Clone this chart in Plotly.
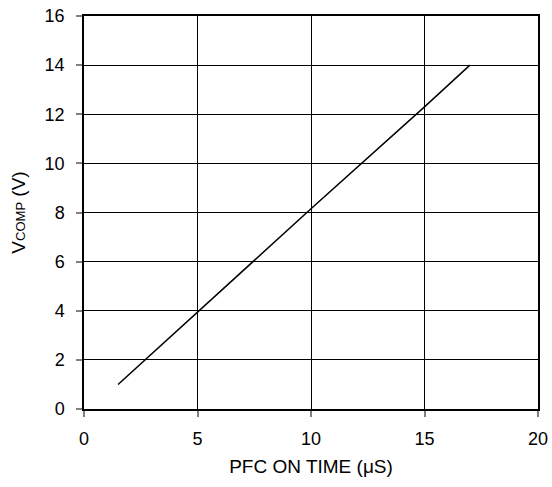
import plotly.graph_objects as go

on_time_us = [1.5, 5, 10, 15, 17]
vcomp_v = [1.0, 3.95, 8.15, 12.3, 14.0]

x_ticks = [0, 5, 10, 15, 20]
y_ticks = [0, 2, 4, 6, 8, 10, 12, 14, 16]

fig = go.Figure()
fig.add_trace(go.Scatter(x=on_time_us, y=vcomp_v, mode="lines",
                         line=dict(color="black", width=1.5), showlegend=False))

fam = "Liberation Sans, Arial, sans-serif"
tick_font = dict(family=fam, size=18, color="black")
title_font = dict(family=fam, size=19, color="black")

fig.update_layout(
    template="none",
    width=552, height=487,
    margin=dict(l=84, r=14, t=16, b=78, autoexpand=False),
    paper_bgcolor="white", plot_bgcolor="white",
    font=tick_font,
    xaxis=dict(range=[0, 20], tickvals=x_ticks, showgrid=True, gridcolor="black", gridwidth=1,
               showline=True, linecolor="black", linewidth=2, mirror=True,
               ticks="outside", ticklen=6, tickcolor="#808080", tickwidth=1.5,
               ticklabelstandoff=6, ticklabeloverflow="allow",
               zeroline=False, automargin=False, tickfont=tick_font,
               title=dict(text="PFC ON TIME (\u03bcS)", standoff=12, font=title_font)),
    yaxis=dict(range=[0, 16], tickvals=y_ticks, showgrid=True, gridcolor="black", gridwidth=1,
               showline=True, linecolor="black", linewidth=1.5, mirror=True,
               ticks="outside", ticklen=6, tickcolor="#808080", tickwidth=1.5,
               ticklabelstandoff=8, ticklabeloverflow="allow",
               zeroline=False, automargin=False, tickfont=tick_font,
               title=dict(text="V<span style='font-size:13px'>COMP</span> (V)", standoff=14, font=title_font)),
)

fig.write_html("out.html", config={"displayModeBar": False},
               post_script="document.body.style.margin='0px';")
